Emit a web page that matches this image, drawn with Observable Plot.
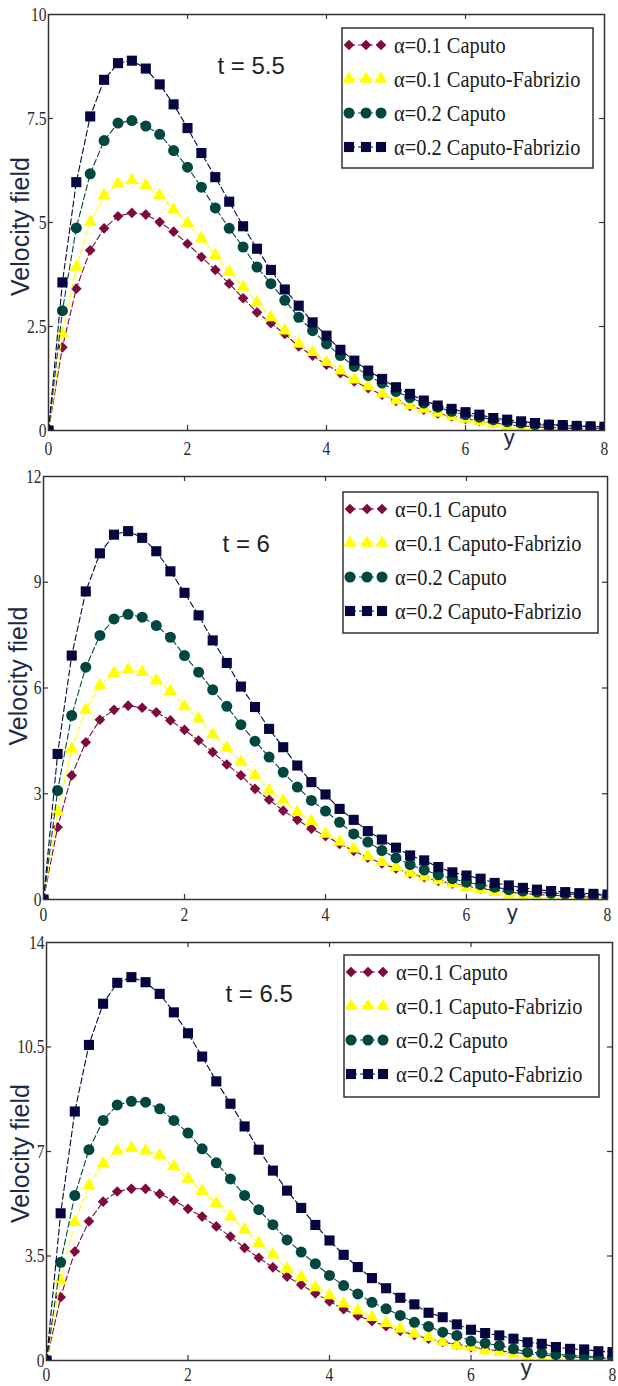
<!DOCTYPE html>
<html><head><meta charset="utf-8">
<script src="https://cdn.jsdelivr.net/npm/d3@7"></script>
<script src="https://cdn.jsdelivr.net/npm/@observablehq/plot@0.6"></script>
<style>
body{margin:0;background:#fff;}
#wrap{position:relative;width:618px;height:1386px;overflow:hidden;background:#fff;}
#wrap svg{position:absolute;left:0;display:block;}
</style></head><body><div id="wrap"></div>
<script>
// ---------- data ----------
const xValues = [0,0.2,0.4,0.6,0.8,1,1.2,1.4,1.6,1.8,2,2.2,2.4,2.6,2.8,3,3.2,3.4,3.6,3.8,4,4.2,4.4,4.6,4.8,5,5.2,5.4,5.6,5.8,6,6.2,6.4,6.6,6.8,7,7.2,7.4,7.6,7.8,8];
const xTicks = [0,2,4,6,8];
const seriesNames = ["α=0.1 Caputo","α=0.1 Caputo-Fabrizio","α=0.2 Caputo","α=0.2 Caputo-Fabrizio"];
const panelTitles = ["t = 5.5","t = 6","t = 6.5"];
const yTicks1 = [0,2.5,5,7.5,10];
const yTicks2 = [0,3,6,9,12];
const yTicks3 = [0,3.5,7,10.5,14];

// t = 5.5
const p1_a01_C  = [0,2.00,3.41,4.33,4.86,5.15,5.23,5.19,5.01,4.78,4.49,4.17,3.86,3.53,3.18,2.84,2.58,2.32,2.02,1.80,1.58,1.38,1.18,1.02,0.86,0.71,0.59,0.50,0.41,0.34,0.28,0.23,0.18,0.14,0.11,0.09,0.07,0.06,0.05,0.04,0.04];
const p1_a01_CF = [0,2.32,3.93,5.01,5.65,5.93,6.01,5.89,5.65,5.31,4.98,4.61,4.21,3.81,3.45,3.08,2.72,2.40,2.08,1.88,1.64,1.44,1.22,1.06,0.88,0.72,0.60,0.52,0.42,0.34,0.28,0.22,0.16,0.10,0.06,0.04,0.03,0.02,0.02,0.02,0.02];
const p1_a02_C  = [0,2.88,4.87,6.17,6.97,7.39,7.45,7.32,7.12,6.73,6.33,5.85,5.35,4.86,4.41,3.93,3.53,3.13,2.72,2.40,2.08,1.80,1.54,1.32,1.14,0.94,0.79,0.66,0.56,0.46,0.38,0.32,0.26,0.21,0.18,0.14,0.13,0.12,0.10,0.09,0.08];
const p1_a02_CF = [0,3.56,5.97,7.55,8.43,8.83,8.89,8.70,8.32,7.84,7.27,6.67,6.09,5.50,4.91,4.37,3.86,3.39,3.00,2.60,2.28,1.94,1.68,1.44,1.24,1.04,0.88,0.72,0.60,0.52,0.44,0.38,0.30,0.26,0.22,0.18,0.14,0.13,0.11,0.10,0.09];
// t = 6
const p2_a01_C  = [0,2.05,3.52,4.46,5.10,5.38,5.50,5.44,5.31,5.08,4.81,4.51,4.18,3.83,3.52,3.14,2.83,2.52,2.26,2.01,1.80,1.58,1.38,1.19,1.02,0.88,0.74,0.63,0.53,0.45,0.38,0.31,0.26,0.21,0.17,0.14,0.12,0.10,0.08,0.07,0.06];
const p2_a01_CF = [0,2.48,4.27,5.38,6.07,6.42,6.52,6.45,6.21,5.91,5.48,5.13,4.68,4.30,3.90,3.52,3.09,2.81,2.48,2.22,1.86,1.63,1.44,1.22,1.06,0.92,0.75,0.65,0.54,0.45,0.35,0.28,0.21,0.14,0.09,0.07,0.05,0.04,0.03,0.02,0.02];
const p2_a02_C  = [0,3.09,5.22,6.59,7.49,7.96,8.09,8.01,7.77,7.44,6.92,6.45,5.95,5.48,4.96,4.49,4.04,3.61,3.19,2.81,2.51,2.19,1.86,1.63,1.39,1.18,0.99,0.84,0.70,0.59,0.49,0.42,0.35,0.28,0.24,0.21,0.18,0.16,0.14,0.13,0.12];
const p2_a02_CF = [0,4.13,6.92,8.74,9.82,10.35,10.45,10.26,9.88,9.31,8.70,8.06,7.35,6.71,6.04,5.46,4.84,4.32,3.80,3.33,2.98,2.57,2.26,1.94,1.70,1.47,1.25,1.11,0.92,0.77,0.68,0.59,0.47,0.40,0.33,0.28,0.24,0.21,0.18,0.16,0.14];
// t = 6.5
const p3_a01_C  = [0,2.12,3.65,4.66,5.32,5.66,5.75,5.75,5.58,5.36,5.08,4.82,4.49,4.15,3.77,3.44,3.12,2.81,2.54,2.25,1.98,1.72,1.50,1.32,1.15,0.99,0.85,0.73,0.62,0.53,0.45,0.38,0.32,0.27,0.22,0.18,0.15,0.12,0.10,0.08,0.07];
const p3_a01_CF = [0,2.68,4.63,5.86,6.59,7.03,7.11,7.03,6.87,6.50,6.08,5.67,5.27,4.82,4.38,3.93,3.55,3.07,2.79,2.45,2.18,1.90,1.67,1.45,1.25,1.06,0.89,0.78,0.61,0.50,0.45,0.33,0.28,0.20,0.11,0.08,0.06,0.04,0.03,0.02,0.02];
const p3_a02_C  = [0,3.29,5.53,7.06,8.04,8.56,8.68,8.65,8.43,8.04,7.62,7.09,6.62,6.08,5.53,5.05,4.55,4.04,3.63,3.24,2.85,2.51,2.23,1.95,1.73,1.51,1.28,1.14,0.95,0.84,0.65,0.58,0.50,0.39,0.28,0.25,0.20,0.17,0.14,0.12,0.10];
const p3_a02_CF = [0,4.93,8.34,10.57,11.95,12.65,12.84,12.67,12.28,11.66,10.96,10.18,9.35,8.60,7.84,7.06,6.36,5.69,5.11,4.54,4.02,3.54,3.13,2.76,2.42,2.10,1.88,1.60,1.45,1.21,1.03,0.92,0.84,0.73,0.61,0.56,0.45,0.39,0.37,0.31,0.28];

// ---------- styles ----------
const colors = ["#7d0b40","#ffff00","#00473f","#05053f"];
const plotSymbols = ["diamond2","triangle","circle","square"];
const d3Symbols = [d3.symbolDiamond2, d3.symbolTriangle, d3.symbolCircle, d3.symbolSquare];
const radii = [4.8, 4.9, 5.5, 5.7];
const serif = "'Liberation Serif','Times New Roman',serif";
const sans = "'Liberation Sans',Arial,sans-serif";

const panels = [
  {top:0,   yTicks:yTicks1, series:[p1_a01_C,p1_a01_CF,p1_a02_C,p1_a02_CF], ml:48, mr:14, mt:14, mb:32, xPad:11,
   tX:2.43, tY:8.75, yLabX:6.63, yLabDy:-1, vDx:-28, vDy:4, legend:{left:342, top:28, w:251, h:140}},
  {top:462, yTicks:yTicks2, series:[p2_a01_C,p2_a01_CF,p2_a02_C,p2_a02_CF], ml:43, mr:11, mt:14, mb:25, xPad:8,
   tX:2.54, tY:10.07, yLabX:6.65, yLabDy:5, vDx:-25, vDy:-12, legend:{left:343, top:492, w:255, h:141}},
  {top:924, yTicks:yTicks3, series:[p3_a01_C,p3_a01_CF,p3_a02_C,p3_a02_CF], ml:46, mr:6, mt:18, mb:26, xPad:7,
   tX:2.53, tY:12.26, yLabX:6.78, yLabDy:-1, vDx:-26, vDy:2, legend:{left:344, top:955, w:255, h:142}}
];

const wrap = document.getElementById("wrap");
const W = 618, H = 462;

panels.forEach((P, pi) => {
  const ymax = P.yTicks[P.yTicks.length - 1];
  const plotW = W - P.ml - P.mr, plotH = H - P.mt - P.mb;
  const tly = ymax * 5 / plotH, tlx = 8 * 5 / plotW;
  const innerX = xTicks.slice(1, -1), innerY = P.yTicks.slice(1, -1);
  const marks = [];
  P.series.forEach((vals, si) => {
    const rows = xValues.map((x, i) => ({x, v: vals[i]}));
    marks.push(Plot.line(rows, {x:"x", y:"v", stroke: colors[si], strokeWidth: 1.1, strokeDasharray: "6,3", clip: true}));
    marks.push(Plot.dot(rows, {x:"x", y:"v", symbol: plotSymbols[si], r: radii[si], fill: colors[si], stroke: "none", clip: true}));
  });
  marks.push(
    Plot.ruleX(innerX, {y1: 0, y2: tly, stroke: "#333", strokeWidth: 1.2}),
    Plot.ruleX(innerX, {y1: ymax - tly, y2: ymax, stroke: "#333", strokeWidth: 1.2}),
    Plot.ruleY(innerY, {x1: 0, x2: tlx, stroke: "#333", strokeWidth: 1.2}),
    Plot.ruleY(innerY, {x1: 8 - tlx, x2: 8, stroke: "#333", strokeWidth: 1.2}),
    Plot.frame({stroke: "#333", strokeWidth: 1.5}),
    Plot.axisX({ticks: xTicks, tickSize: 0, tickPadding: P.xPad, label: null, fontSize: 19, fontFamily: serif, fill: "#2a2a2a", ariaLabel: "x-ticklab"}),
    Plot.axisY({ticks: P.yTicks, tickSize: 0, tickPadding: 2, label: null, tickFormat: d => String(d), fontSize: 19, fontFamily: serif, fill: "#2a2a2a", ariaLabel: "y-ticklab"}),
    Plot.text([{x: P.tX, y: P.tY, t: panelTitles[pi]}], {x:"x", y:"y", text:"t", textAnchor:"start", fontSize: 24, fontFamily: sans, fill:"#222", ariaLabel:"annot-h"}),
    Plot.text([{x: P.yLabX, y: 0, t: "y"}], {x:"x", y:"y", text:"t", lineAnchor:"top", dy: P.yLabDy, fontSize: 22, fontFamily: sans, fill:"#1e2a44", ariaLabel:"annot-h"}),
    Plot.text(["Velocity field"], {text: d => d, frameAnchor:"left", textAnchor:"middle", dx: P.vDx, dy: P.vDy, rotate: -90, fontSize: 25, fontFamily: sans, fill:"#1e2a44", ariaLabel:"annot-v"})
  );
  const svg = Plot.plot({
    width: W, height: H,
    marginLeft: P.ml, marginRight: P.mr, marginTop: P.mt, marginBottom: P.mb,
    style: {fontFamily: serif, fontSize: "19px", color: "#2a2a2a", background: "transparent"},
    x: {domain: [0, 8], axis: null},
    y: {domain: [0, ymax], axis: null},
    marks
  });
  svg.style.top = P.top + "px";
  wrap.appendChild(svg);
  d3.select(svg).selectAll("text").each(function() {
    const lab = this.closest("g") ? this.closest("g").getAttribute("aria-label") || "" : "";
    if (lab.startsWith("x-ticklab") || lab.startsWith("y-ticklab") || lab === "annot-h") {
      const t = this.getAttribute("transform") || "";
      this.setAttribute("transform", t + " scale(0.82,1)");
    } else if (lab === "annot-v") {
      const t = this.getAttribute("transform") || "";
      this.setAttribute("transform", t + " scale(1,0.82)");
    }
  });

  // legend
  const L = P.legend;
  const lg = d3.select(wrap).append("svg")
    .attr("width", L.w + 2).attr("height", L.h + 2)
    .style("left", (L.left - 1) + "px").style("top", (L.top - 1) + "px");
  lg.append("rect").attr("x", 1).attr("y", 1).attr("width", L.w).attr("height", L.h)
    .attr("fill", "#fff").attr("stroke", "#333").attr("stroke-width", 1.5);
  const rowY = [17, 51, 85, 119];
  seriesNames.forEach((name, si) => {
    const g = lg.append("g").attr("transform", `translate(1,${1 + rowY[si]})`);
    g.append("line").attr("x1", 7).attr("x2", 39).attr("y1", 0).attr("y2", 0)
      .attr("stroke", colors[si]).attr("stroke-width", 1.1).attr("stroke-dasharray", "6,3");
    [7, 24, 39].forEach(mx => {
      g.append("path").attr("d", d3.symbol(d3Symbols[si], Math.PI * radii[si] * radii[si])())
        .attr("transform", `translate(${mx},0)`).attr("fill", colors[si]);
    });
    g.append("text").attr("transform", "translate(52,0) scale(0.85,1)").attr("dy", "0.35em")
      .attr("font-family", serif).attr("font-size", 24).attr("fill", "#1a1a1a").text(name);
  });
});
</script></body></html>
